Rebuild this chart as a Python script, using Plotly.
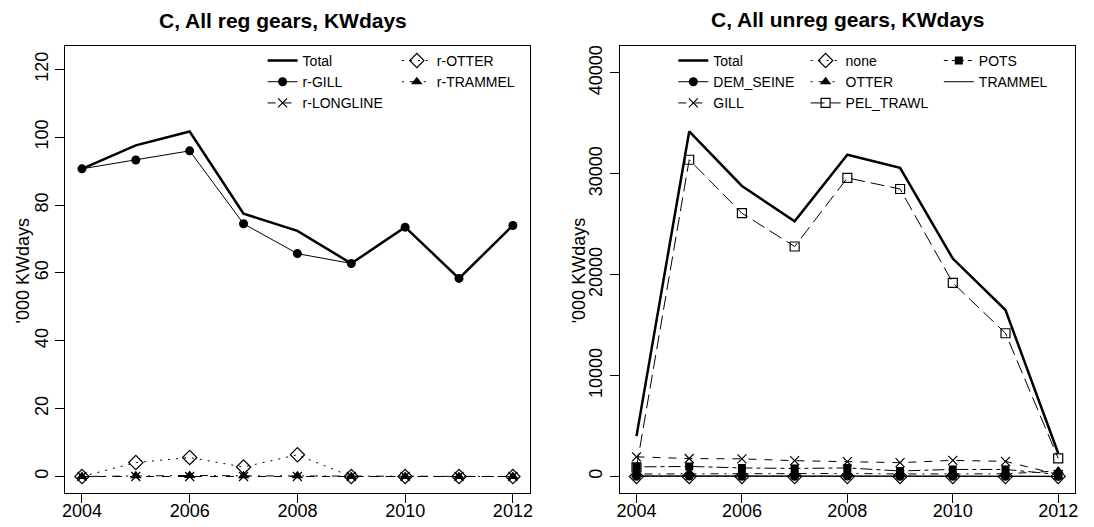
#############################################
########## 1. Load libraries
#############################################
import plotly.graph_objects as go

#############################################
########## 2. Data ('000 KWdays)
#############################################
years = [2004, 2005, 2006, 2007, 2008, 2009, 2010, 2011, 2012]

# Regulated gears
reg_total = [90.7, 97.6, 101.7, 77.5, 72.4, 62.8, 73.5, 58.4, 74.0]
reg_gill = [90.7, 93.3, 96.0, 74.5, 65.7, 62.8, 73.5, 58.4, 74.0]
reg_longline = [0, 0, 0, 0, 0, 0, 0, 0, 0]
reg_otter = [0, 4.1, 5.6, 2.8, 6.4, 0, 0, 0, 0]
reg_trammel = [0, 0.2, 0.3, 0.2, 0.2, 0, 0, 0, 0]

# Unregulated gears
unreg_total = [4000, 34200, 28800, 25300, 31900, 30600, 21600, 16500, 2300]
unreg_dem_seine = [30, 40, 30, 30, 40, 20, 30, 20, 10]
unreg_gill = [1950, 1780, 1750, 1570, 1470, 1370, 1600, 1500, 200]
unreg_none = [10, 10, 10, 10, 10, 10, 10, 10, 10]
unreg_otter = [250, 280, 270, 280, 300, 250, 280, 270, 550]
unreg_pel_trawl = [900, 31400, 26100, 22800, 29600, 28500, 19200, 14200, 1800]
unreg_pots = [950, 1000, 850, 800, 850, 550, 700, 700, 200]
unreg_trammel = [60, 50, 50, 60, 50, 40, 50, 50, 20]

x_ticks = [2004, 2006, 2008, 2010, 2012]
reg_y_ticks = [0, 20, 40, 60, 80, 100, 120]
unreg_y_ticks = [0, 10000, 20000, 30000, 40000]

#############################################
########## 3. Styles (R lty / pch look)
#############################################
FONT = 'Liberation Sans, Arial, sans-serif'
# page body has an 8px margin, so the figure is 8px smaller than the window
OFF = 8
W, H = 1094 - OFF, 527 - OFF
lty = {1: 'solid', 2: '8px,8px', 3: '2px,6px', 4: '2px,6px,8px,6px', 5: '14px,6px', 6: '4px,4px,12px,4px'}
pch = {
	'circle': dict(symbol='circle', size=9, color='black'),
	'x': dict(symbol='x-thin-open', size=9, color='black', line=dict(width=1.2, color='black')),
	'diamond': dict(symbol='diamond-open', size=11, color='black', line=dict(width=1.2, color='black')),
	'triangle': dict(symbol='triangle-up', size=10, color='black'),
	'square_open': dict(symbol='square-open', size=9, color='black', line=dict(width=1.2, color='black')),
	'square': dict(symbol='square', size=8, color='black'),
}

# window pixel -> paper fraction
def px_x(p):
	return (p - OFF) / W

def px_y(p):
	return 1 - (p - OFF) / H

fig = go.Figure()

def add(y, name, xa, ya, legend, dash=1, marker=None, width=1):
	fig.add_trace(go.Scatter(
		x=years, y=y, name=name, xaxis=xa, yaxis=ya, legend=legend,
		mode='lines+markers' if marker else 'lines',
		line=dict(color='black', width=width, dash=lty[dash]),
		marker=pch[marker] if marker else None))

#############################################
########## 4. Traces
#############################################
add(reg_total, 'Total', 'x', 'y', 'legend', 1, None, 2.5)
add(reg_gill, 'r-GILL', 'x', 'y', 'legend', 1, 'circle')
add(reg_longline, 'r-LONGLINE', 'x', 'y', 'legend', 2, 'x')
add(reg_otter, 'r-OTTER', 'x', 'y', 'legend2', 3, 'diamond')
add(reg_trammel, 'r-TRAMMEL', 'x', 'y', 'legend2', 4, 'triangle')

add(unreg_total, 'Total', 'x2', 'y2', 'legend3', 1, None, 2.5)
add(unreg_dem_seine, 'DEM_SEINE', 'x2', 'y2', 'legend3', 1, 'circle')
add(unreg_gill, 'GILL', 'x2', 'y2', 'legend3', 2, 'x')
add(unreg_none, 'none', 'x2', 'y2', 'legend4', 3, 'diamond')
add(unreg_otter, 'OTTER', 'x2', 'y2', 'legend4', 4, 'triangle')
add(unreg_pel_trawl, 'PEL_TRAWL', 'x2', 'y2', 'legend4', 5, 'square_open')
add(unreg_pots, 'POTS', 'x2', 'y2', 'legend5', 6, 'square')
add(unreg_trammel, 'TRAMMEL', 'x2', 'y2', 'legend5', 1, None)

#############################################
########## 5. Layout
#############################################
def r_range(lo, hi):
	pad = (hi - lo) * 0.04
	return [lo - pad, hi + pad]

axis_style = dict(showline=True, mirror=True, linecolor='black', linewidth=1,
	ticks='outside', ticklen=9, tickcolor='black', showgrid=False, zeroline=False,
	tickformat='d', tickfont=dict(family=FONT, size=18, color='black'))

xr = r_range(min(years), max(years))
yr_reg = r_range(0, max(reg_total) * 1.2)
yr_unreg = r_range(0, max(unreg_total) * 1.2)

legend_style = dict(bgcolor='rgba(0,0,0,0)', borderwidth=0, xanchor='left', yanchor='top',
	font=dict(family=FONT, size=14, color='black'), tracegroupgap=0)

def label(text, x, y, size, angle=0):
	return dict(text=text, x=px_x(x), y=px_y(y), xref='paper', yref='paper', textangle=angle,
		xanchor='center', yanchor='middle', showarrow=False, font=dict(family=FONT, size=size, color='black'))

fig.update_layout(
	width=W, height=H, margin=dict(l=0, r=0, t=0, b=0),
	paper_bgcolor='white', plot_bgcolor='white', showlegend=True,
	font=dict(family=FONT, color='black'),
	xaxis=dict(domain=[px_x(62), px_x(530)], range=xr, tickvals=x_ticks, anchor='y',
		ticklabelstandoff=-8, **axis_style),
	yaxis=dict(domain=[px_y(493), px_y(45)], range=yr_reg, tickvals=reg_y_ticks, tickangle=-90, anchor='x',
		**axis_style),
	xaxis2=dict(domain=[px_x(620), px_x(1078)], range=xr, tickvals=x_ticks, anchor='y2',
		ticklabelstandoff=-8, **axis_style),
	yaxis2=dict(domain=[px_y(493), px_y(45)], range=yr_unreg, tickvals=unreg_y_ticks, tickangle=-90, anchor='x2',
		**axis_style),
	legend=dict(x=px_x(261), y=px_y(44), **legend_style),
	legend2=dict(x=px_x(396), y=px_y(44), **legend_style),
	legend3=dict(x=px_x(674), y=px_y(44), **legend_style),
	legend4=dict(x=px_x(807), y=px_y(44), **legend_style),
	legend5=dict(x=px_x(941), y=px_y(44), **legend_style),
	annotations=[
		label('<b>C, All reg gears, KWdays</b>', 282, 20, 21),
		label('<b>C, All unreg gears, KWdays</b>', 849, 19, 21),
		label("'000 KWdays", 21, 270, 18, -90),
		label("'000 KWdays", 580, 270, 18, -90),
	],
)

fig.write_html('out.html')
